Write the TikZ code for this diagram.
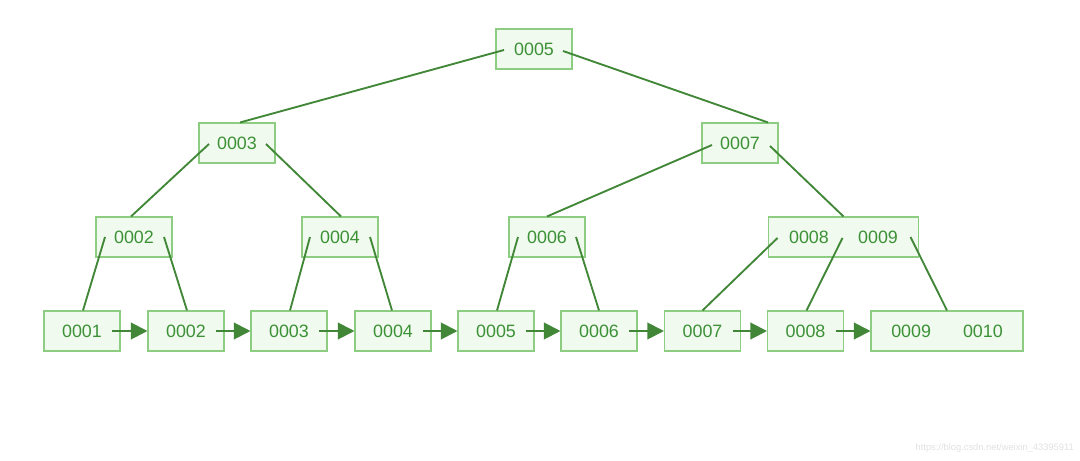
\documentclass[tikz,border=0pt]{standalone}
\usepackage{fontspec}
\setmainfont{Liberation Sans}
\usetikzlibrary{arrows.meta}
\definecolor{boxfill}{RGB}{240,250,238}
\definecolor{boxdraw}{RGB}{140,205,130}
\definecolor{txt}{RGB}{60,145,55}
\definecolor{edge}{RGB}{65,135,55}
\definecolor{wm}{RGB}{225,225,225}
\tikzset{
  keybox/.style={draw=boxdraw, fill=boxfill, line width=0.8pt, minimum width=57pt, minimum height=30pt, inner sep=0pt, text=txt, font=\fontsize{13.4}{15}\selectfont},
  widebox/.style={keybox, minimum width=113.5pt},
  link/.style={draw=edge, line width=1.4pt},
  nextp/.style={draw=edge, line width=1.6pt, -{Triangle[length=12.5pt,width=12.5pt]}}
}
\begin{document}
\begin{tikzpicture}[x=0.75pt,y=-0.75pt]
\useasboundingbox (0,0) rectangle (1080,460);
% root and internal nodes
\node[keybox] (r) at (534,49) {0005};
\node[keybox] (a3) at (237,143) {0003};
\node[keybox] (a7) at (740,143) {0007};
\node[keybox] (b2) at (134,237) {0002};
\node[keybox] (b4) at (340,237) {0004};
\node[keybox] (b6) at (547,237) {0006};
\node[widebox, minimum width=113pt] (b89) at (843.5,237) {0008\hspace{22pt}0009};
% leaves
\node[keybox] (l1) at (82,331) {0001};
\node[keybox] (l2) at (186,331) {0002};
\node[keybox] (l3) at (289,331) {0003};
\node[keybox] (l4) at (393,331) {0004};
\node[keybox] (l5) at (496,331) {0005};
\node[keybox] (l6) at (599,331) {0006};
\node[keybox] (l7) at (702.5,331) {0007};
\node[keybox] (l8) at (805.5,331) {0008};
\node[widebox, minimum width=114pt] (l910) at (947,331) {0009\hspace{24pt}0010};
% tree edges
\draw[link] ([shift={(-30,1)}]r.center) -- ([shift={(3,0)}]a3.north);
\draw[link] ([shift={(29,2)}]r.center) -- ([shift={(28,0)}]a7.north);
\draw[link] ([shift={(-28,1)}]a3.center) -- ([shift={(-3,0)}]b2.north);
\draw[link] ([shift={(29,1)}]a3.center) -- ([shift={(1,0)}]b4.north);
\draw[link] ([shift={(-28,2)}]a7.center) -- (b6.north);
\draw[link] ([shift={(30,3)}]a7.center) -- (b89.north);
\draw[link] ([shift={(-29,0)}]b2.center) -- ([shift={(1,0)}]l1.north);
\draw[link] ([shift={(30,0)}]b2.center) -- ([shift={(1,0)}]l2.north);
\draw[link] ([shift={(-30,0)}]b4.center) -- ([shift={(1,0)}]l3.north);
\draw[link] ([shift={(30,0)}]b4.center) -- ([shift={(-1,0)}]l4.north);
\draw[link] ([shift={(-29,0)}]b6.center) -- ([shift={(1,0)}]l5.north);
\draw[link] ([shift={(29,0)}]b6.center) -- ([shift={(0,0)}]l6.north);
\draw[link] ([shift={(-66,1)}]b89.center) -- ([shift={(0,0)}]l7.north);
\draw[link] ([shift={(-1,1)}]b89.center) -- ([shift={(1,0)}]l8.north);
\draw[link] ([shift={(67,0)}]b89.center) -- ([shift={(0,0)}]l910.north);
% leaf chain
\draw[nextp] ([shift={(30,0)}]l1.center) -- (l2.west);
\draw[nextp] ([shift={(30,0)}]l2.center) -- (l3.west);
\draw[nextp] ([shift={(30,0)}]l3.center) -- (l4.west);
\draw[nextp] ([shift={(30,0)}]l4.center) -- (l5.west);
\draw[nextp] ([shift={(30,0)}]l5.center) -- (l6.west);
\draw[nextp] ([shift={(30,0)}]l6.center) -- (l7.west);
\draw[nextp] ([shift={(30,0)}]l7.center) -- (l8.west);
\draw[nextp] ([shift={(30,0)}]l8.center) -- (l910.west);
% watermark
\node[text=wm, font=\fontsize{7}{8}\selectfont, anchor=east, inner sep=0pt] (wmk) at (1074,448) {https://blog.csdn.net/weixin\_43395911};
\end{tikzpicture}
\end{document}
